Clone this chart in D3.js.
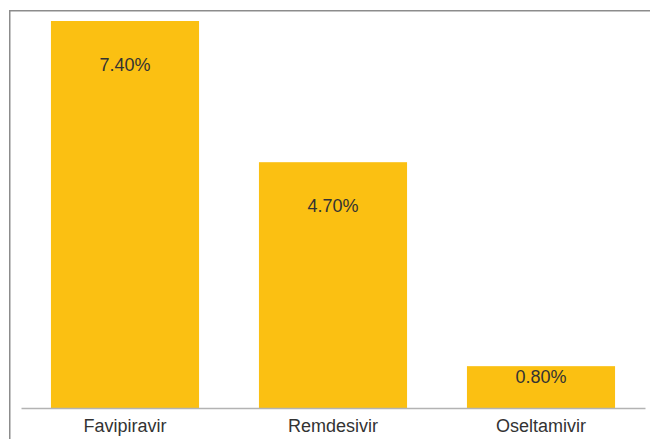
<!DOCTYPE html>
<html>
<head>
<meta charset="utf-8">
<script src="https://cdn.jsdelivr.net/npm/d3@7"></script>
<style>
  html, body { margin: 0; padding: 0; background: #fff; }
  svg { display: block; font-family: "Liberation Sans", Arial, sans-serif; }
</style>
</head>
<body>
<div id="chart"></div>
<script>
// data
const drugs = ["Favipiravir", "Remdesivir", "Oseltamivir"];
const rates = [7.4, 4.7, 0.8];
const rateLabels = ["7.40%", "4.70%", "0.80%"];

const W = 650, H = 439;
const margin = {top: 21, right: 5, bottom: 31, left: 21};
const plotBottom = H - margin.bottom;

const svg = d3.select("#chart").append("svg")
  .attr("width", W)
  .attr("height", H);

// outer frame (only top and left edges show)
svg.append("path")
  .attr("d", `M9.75,${H} V10.75 H${W}`)
  .attr("fill", "none")
  .attr("stroke", "#8c8c8c")
  .attr("stroke-width", 1.5);

const x = d3.scaleBand()
  .domain(drugs)
  .range([margin.left, W - margin.right])
  .paddingInner(0.288)
  .paddingOuter(0.144);

const y = d3.scaleLinear()
  .domain([0, d3.max(rates)])
  .range([plotBottom, margin.top]);

const data = drugs.map((d, i) => ({drug: d, value: rates[i], label: rateLabels[i]}));

svg.append("g")
  .selectAll("rect")
  .data(data)
  .join("rect")
    .attr("x", d => x(d.drug))
    .attr("y", d => y(d.value))
    .attr("width", x.bandwidth())
    .attr("height", d => plotBottom - y(d.value))
    .attr("fill", "#fbc012");

// value labels inside the bars
svg.append("g")
  .selectAll("text")
  .data(data)
  .join("text")
    .attr("x", d => x(d.drug) + x.bandwidth() / 2)
    .attr("y", d => y(d.value) + Math.min(50, (plotBottom - y(d.value)) * 0.4))
    .attr("text-anchor", "middle")
    .attr("font-size", 18)
    .attr("fill", "#333")
    .text(d => d.label);

// x axis
const xAxis = svg.append("g")
  .attr("transform", `translate(0,${plotBottom})`)
  .call(d3.axisBottom(x).tickSize(0).tickPadding(0));

xAxis.select(".domain")
  .attr("stroke", "#b3b3b3")
  .attr("stroke-width", 1.5);

xAxis.selectAll("text")
  .attr("font-size", 18)
  .attr("font-family", "Liberation Sans, Arial, sans-serif")
  .attr("fill", "#333")
  .attr("dy", null)
  .attr("y", 24);
</script>
</body>
</html>
